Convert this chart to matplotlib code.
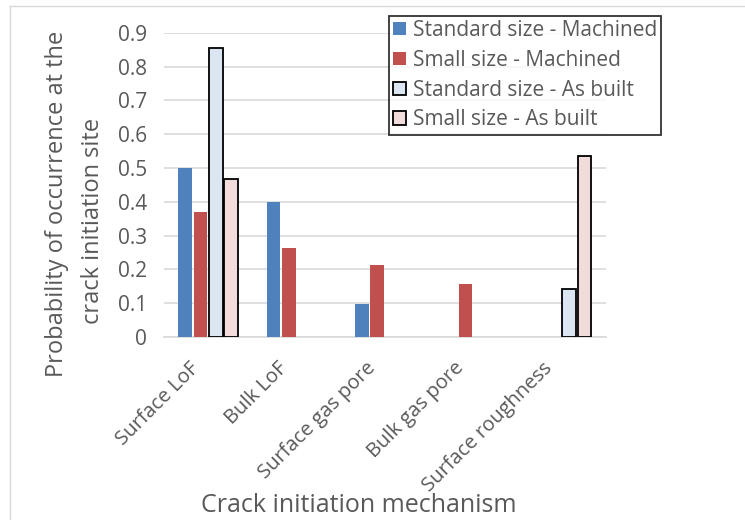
import matplotlib.pyplot as plt
import matplotlib.transforms as mtransforms
import numpy as np
from matplotlib.lines import Line2D

plt.rcParams['font.family'] = ['Open Sans', 'DejaVu Sans']

categories = ['Surface LoF', 'Bulk LoF', 'Surface gas pore', 'Bulk gas pore', 'Surface roughness']
series_names = ['Standard size - Machined', 'Small size - Machined',
                'Standard size - As built', 'Small size - As built']
std_machined = [0.50, 0.40, 0.098, 0.0, 0.0]
small_machined = [0.37, 0.262, 0.212, 0.157, 0.0]
std_asbuilt = [0.855, 0.0, 0.0, 0.0, 0.142]
small_asbuilt = [0.468, 0.0, 0.0, 0.0, 0.535]
ylabel_lines = ['Probability of occurrence at the', 'crack initiation site']

colors = ['#4F81BD', '#C0504D', '#DCE6F2', '#F2DCDB']
edges = [None, None, 'black', 'black']
grey = '#595959'

fig = plt.figure(figsize=(7.45, 5.2), dpi=100)
ax = fig.add_axes([0.22, 0.352, 0.593, 0.585])

x = np.arange(len(categories))
slot = 0.174
width = 0.155
all_series = [std_machined, small_machined, std_asbuilt, small_asbuilt]
for i, (vals, name) in enumerate(zip(all_series, series_names)):
    vals = np.array(vals)
    mask = vals > 0
    if edges[i]:
        ax.bar(x[mask] + (i - 1.5) * slot, vals[mask], width, color=colors[i],
               edgecolor=edges[i], linewidth=1.3, label=name, zorder=3)
    else:
        ax.bar(x[mask] + (i - 1.5) * slot, vals[mask], width, color=colors[i],
               label=name, zorder=3)

ax.set_xlim(-0.5, len(categories) - 0.5)
ax.set_ylim(0, 0.9)
ax.set_yticks(np.arange(0, 0.91, 0.1))
ax.set_yticklabels(['0'] + ['%.1f' % v for v in np.arange(0.1, 0.91, 0.1)])
ax.yaxis.grid(True, color='#D9D9D9', linewidth=1.2, zorder=0)
ax.set_axisbelow(True)
for s in ['top', 'right', 'left']:
    ax.spines[s].set_visible(False)
ax.spines['bottom'].set_color('#D9D9D9')
ax.spines['bottom'].set_linewidth(1.2)
ax.tick_params(axis='both', length=0, colors=grey, labelsize=15)
ax.tick_params(axis='y', pad=12)
ax.set_xticks(x)
ax.set_xticklabels(categories, rotation=45, ha='right', va='center',
                   rotation_mode='anchor', fontsize=14.5)
ax.tick_params(axis='x', pad=14)
shift = mtransforms.ScaledTranslation(-12 / 100, -9 / 100, fig.dpi_scale_trans)
for lbl in ax.get_xticklabels():
    lbl.set_transform(lbl.get_transform() + shift)

# y label, two lines placed separately (as in the original layout)
fig.text(57 / 745, 1 - 204 / 520, ylabel_lines[0], fontsize=17, color=grey,
         rotation=90, ha='center', va='center')
fig.text(93 / 745, 1 - 221 / 520, ylabel_lines[1], fontsize=17, color=grey,
         rotation=90, ha='center', va='center')
fig.text(0.481, 0.028, 'Crack initiation mechanism', fontsize=18, color=grey,
         ha='center', va='center')

leg = fig.legend(loc='upper left', bbox_to_anchor=(389 / 745, 1 - 16 / 520), fontsize=15,
                 frameon=True, fancybox=False, edgecolor='black',
                 handlelength=0.6, handleheight=0.6, handletextpad=0.35,
                 labelspacing=0.42, borderpad=0.2, borderaxespad=0)
leg.get_frame().set_linewidth(1.3)
for t in leg.get_texts():
    t.set_color(grey)

# chart area border (left and top only visible in the crop)
fig.add_artist(Line2D([0.013, 0.013], [0, 0.988], color='#D9D9D9', lw=1,
                      transform=fig.transFigure))
fig.add_artist(Line2D([0.013, 1], [0.988, 0.988], color='#D9D9D9', lw=1,
                      transform=fig.transFigure))

fig.savefig('out.png', dpi=100)
